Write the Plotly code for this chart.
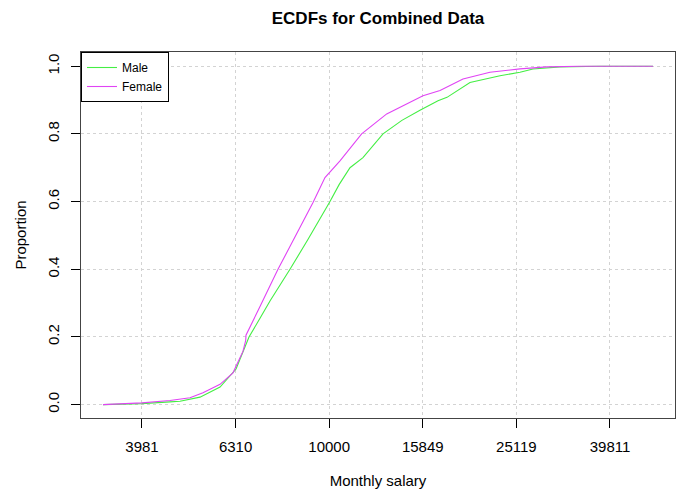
import plotly.graph_objects as go

# ECDF: monthly salary vs cumulative proportion
male_salary = [3286, 3981, 4568, 4800, 5296, 5845, 6324, 6740, 7115, 7473, 8246,
               9000, 10039, 10500, 11077, 11807, 13032, 14300, 15631, 17082, 17854, 19991,
               23174, 25567, 27253, 31135, 37900, 49180]
male_prop = [0.0, 0.003, 0.008, 0.01, 0.022, 0.052, 0.105, 0.2, 0.255, 0.306, 0.4,
             0.487, 0.6, 0.65, 0.70, 0.73, 0.8, 0.84, 0.87, 0.898, 0.908, 0.952,
             0.972, 0.982, 0.992, 0.998, 1.0, 1.0]

female_salary = [3286, 3981, 4568, 5042, 5375, 5845, 6230, 6545, 6632, 6641, 7115,
                 7773, 8368, 9235, 9795, 10546, 11731, 13271, 15864, 17252,
                 19313, 22057, 25567, 29201, 34350, 49180]
female_prop = [0.0, 0.005, 0.012, 0.02, 0.035, 0.06, 0.094, 0.158, 0.19, 0.205, 0.29,
               0.4, 0.484, 0.597, 0.671, 0.72, 0.8, 0.859, 0.913, 0.928,
               0.962, 0.982, 0.992, 0.998, 1.0, 1.0]

x_tick_vals = [3981, 6310, 10000, 15849, 25119, 39811]
x_tick_text = ["3981", "6310", "10000", "15849", "25119", "39811"]
y_tick_vals = [0.0, 0.2, 0.4, 0.6, 0.8, 1.0]
y_tick_text = ["0.0", "0.2", "0.4", "0.6", "0.8", "1.0"]

FONT = "Liberation Sans, Arial, Helvetica, sans-serif"

fig = go.Figure()
fig.add_trace(go.Scatter(x=male_salary, y=male_prop, mode="lines", name="Male",
                         line=dict(color="#44ee44", width=1.1)))
fig.add_trace(go.Scatter(x=female_salary, y=female_prop, mode="lines", name="Female",
                         line=dict(color="#e044f4", width=1.1)))

fig.update_layout(
    width=678, height=498,
    margin=dict(l=81, r=3, t=52, b=80, autoexpand=False),
    paper_bgcolor="white", plot_bgcolor="white",
    font=dict(family=FONT, size=15, color="black"),
    title=dict(text="<b>ECDFs for Combined Data</b>", x=378 / 678, xanchor="center",
               y=1 - 18 / 498, yanchor="middle", font=dict(size=17, family=FONT)),
    showlegend=True,
    legend=dict(x=0, y=1, xanchor="left", yanchor="top", bgcolor="white",
                bordercolor="black", borderwidth=1, font=dict(size=12, family=FONT),
                itemwidth=30, tracegroupgap=0),
)
fig.update_xaxes(
    type="log", range=[3.4697, 4.7389], automargin=False,
    tickvals=x_tick_vals, ticktext=x_tick_text,
    ticks="outside", ticklen=9, tickcolor="black", tickwidth=1,
    ticklabelstandoff=6,
    showgrid=True, gridcolor="#d3d3d3", griddash="dot", gridwidth=1,
    showline=True, linecolor="#444444", linewidth=1, mirror=True,
    zeroline=False,
    title=dict(text="Monthly salary", font=dict(size=15), standoff=21),
)
fig.update_yaxes(
    range=[-0.0396, 1.042], automargin=False,
    tickvals=y_tick_vals, ticktext=y_tick_text, tickangle=-90,
    ticks="outside", ticklen=9, tickcolor="black", tickwidth=1,
    ticklabelstandoff=6,
    showgrid=True, gridcolor="#d3d3d3", griddash="dot", gridwidth=1,
    showline=True, linecolor="#444444", linewidth=1, mirror=True,
    zeroline=False,
    title=dict(text="Proportion", font=dict(size=15), standoff=14),
)

fig.write_html("out.html",
               config={"displayModeBar": False},
               post_script="document.body.style.margin='0';document.body.style.overflow='hidden';")
